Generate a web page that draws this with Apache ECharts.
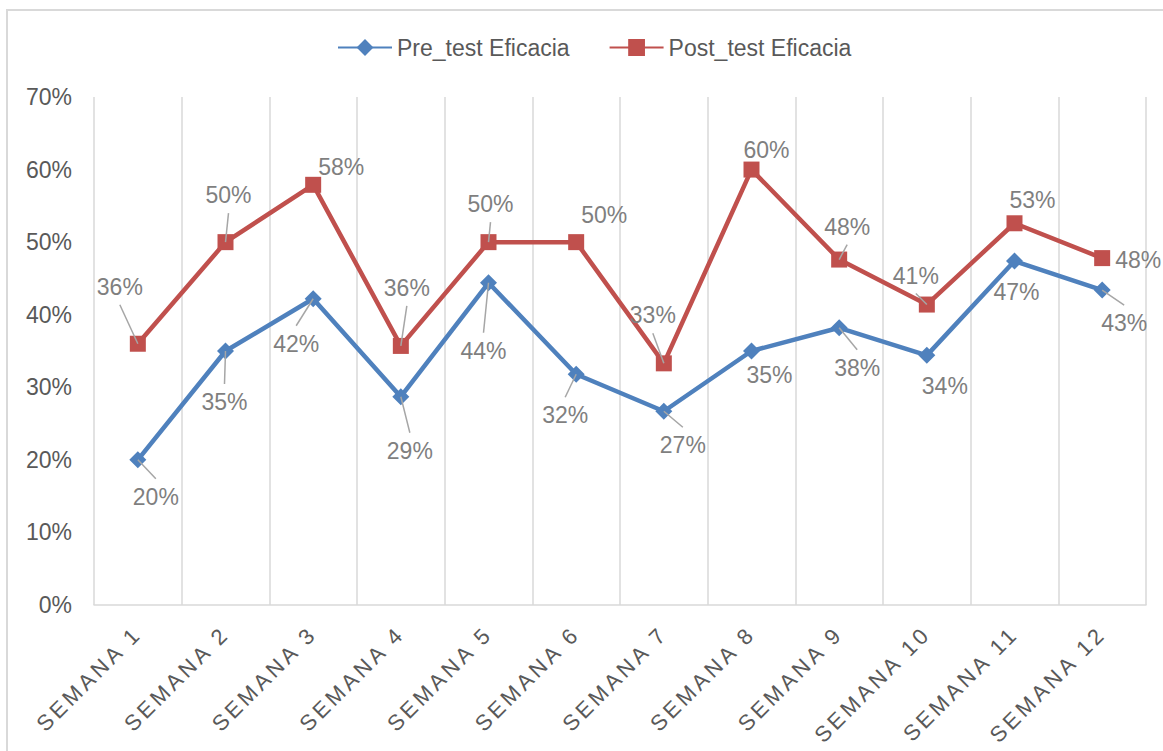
<!DOCTYPE html>
<html>
<head>
<meta charset="utf-8">
<script src="https://cdn.jsdelivr.net/npm/echarts@6/dist/echarts.min.js"></script>
<style>
  html, body { margin: 0; padding: 0; background: #ffffff; }
  #chart { width: 1163px; height: 751px; }
</style>
</head>
<body>
<div id="chart"></div>
<script>
// Weekly efficacy, before and after the intervention
const categories = ['SEMANA 1', 'SEMANA 2', 'SEMANA 3', 'SEMANA 4', 'SEMANA 5', 'SEMANA 6',
                    'SEMANA 7', 'SEMANA 8', 'SEMANA 9', 'SEMANA 10', 'SEMANA 11', 'SEMANA 12'];
const preTest  = [0.200, 0.350, 0.422, 0.287, 0.444, 0.318, 0.267, 0.350, 0.382, 0.344, 0.474, 0.434];
const postTest = [0.360, 0.500, 0.579, 0.357, 0.500, 0.500, 0.333, 0.600, 0.476, 0.414, 0.526, 0.478];
const seriesNames = ['Pre_test Eficacia', 'Post_test Eficacia'];

// Where each value label sits, relative to its marker, and whether a leader line joins them
const preLabelOffsets  = [[18, 37], [-1, 51], [-17, 45], [9, 54], [-5, 68], [-11, 41],
                          [19, 34], [18, 24], [18, 40], [18, 31], [2, 31], [22, 33]];
const preLeaders       = [1, 1, 1, 1, 1, 1, 1, 0, 1, 0, 0, 1];
const postLabelOffsets = [[-18, -57], [3, -47], [28, -18], [6, -58], [2, -38], [28, -27],
                          [-11, -48], [15, -20], [8, -33], [-11, -29], [18, -23], [36, 2]];
const postLeaders      = [1, 1, 0, 1, 1, 0, 1, 0, 1, 1, 0, 0];

const FONT = "'Liberation Sans', Arial, sans-serif";
const BLUE = '#4f81bd';
const RED = '#c0504d';
const LABEL_GREY = '#7f7f7f';
const LEADER_GREY = '#a6a6a6';
const AXIS_TEXT = '#595959';
const pct = v => Math.round(v * 100) + '%';

function lineSeries(name, values, color, symbol, size) {
  return {
    name: name,
    type: 'line',
    data: values,
    symbol: symbol,
    symbolSize: size,
    showSymbol: true,
    z: 2,
    lineStyle: { color: color, width: 4.5 },
    itemStyle: { color: color },
    label: { show: false },
    emphasis: { disabled: true }
  };
}

// Value labels with their leader lines, placed from the same values through the axes
function labelSeries(name, values, offsets, leaders) {
  return {
    name: name + ' %',
    type: 'custom',
    coordinateSystem: 'cartesian2d',
    data: values.map((v, i) => [i, v]),
    z: 4,
    silent: true,
    clip: false,
    renderItem: (params, api) => {
      const i = params.dataIndex;
      const v = api.value(1);
      const p = api.coord([api.value(0), v]);
      const cx = p[0] + offsets[i][0];
      const cy = p[1] + offsets[i][1];
      const children = [];
      if (leaders[i]) {
        const ey = cy + (p[1] > cy ? 18 : -18);
        children.push({
          type: 'line',
          shape: { x1: p[0], y1: p[1], x2: cx, y2: ey },
          style: { stroke: LEADER_GREY, lineWidth: 1.5 }
        });
      }
      children.push({
        type: 'text',
        style: {
          text: pct(v),
          x: cx,
          y: cy,
          align: 'center',
          verticalAlign: 'middle',
          fill: LABEL_GREY,
          fontSize: 23,
          fontFamily: FONT
        }
      });
      return { type: 'group', children: children };
    }
  };
}

const chart = echarts.init(document.getElementById('chart'), null, { renderer: 'svg' });

chart.setOption({
  animation: false,
  backgroundColor: '#ffffff',
  textStyle: { fontFamily: FONT },
  graphic: [{
    type: 'rect',
    shape: { x: 7, y: 10, width: 1200, height: 800 },
    style: { fill: 'none', stroke: '#d9d9d9', lineWidth: 2 },
    silent: true,
    z: -10
  }],
  legend: {
    data: seriesNames,
    left: 332,
    top: 31,
    itemWidth: 54,
    itemHeight: 21,
    itemGap: 39,
    textStyle: { color: AXIS_TEXT, fontSize: 23, fontFamily: FONT }
  },
  grid: { left: 94, right: 17, top: 97, bottom: 146, containLabel: false },
  xAxis: {
    type: 'category',
    data: categories,
    boundaryGap: true,
    axisLine: { show: true, lineStyle: { color: '#d9d9d9', width: 1.5 } },
    axisTick: { show: false },
    splitLine: { show: true, interval: 0, lineStyle: { color: '#d9d9d9', width: 1.5 } },
    axisLabel: {
      interval: 0,
      rotate: 45,
      margin: 25,
      color: AXIS_TEXT,
      fontSize: 22,
      fontFamily: FONT
    }
  },
  yAxis: {
    type: 'value',
    min: 0,
    max: 0.7,
    interval: 0.1,
    axisLine: { show: false },
    axisTick: { show: false },
    splitLine: { show: false },
    axisLabel: {
      margin: 22,
      color: AXIS_TEXT,
      fontSize: 23,
      fontFamily: FONT,
      formatter: v => pct(v)
    }
  },
  series: [
    lineSeries(seriesNames[0], preTest, BLUE, 'diamond', 17),
    lineSeries(seriesNames[1], postTest, RED, 'rect', 16),
    labelSeries(seriesNames[0], preTest, preLabelOffsets, preLeaders),
    labelSeries(seriesNames[1], postTest, postLabelOffsets, postLeaders)
  ]
});

// Category labels are drawn with extra tracking between letters
function spaceCategoryLabels() {
  document.querySelectorAll('#chart svg text').forEach(t => {
    if (categories.indexOf(t.textContent.trim()) !== -1) {
      t.style.letterSpacing = '3.5px';
    }
  });
}
chart.on('finished', spaceCategoryLabels);
requestAnimationFrame(() => requestAnimationFrame(spaceCategoryLabels));
setTimeout(spaceCategoryLabels, 50);
</script>
</body>
</html>
